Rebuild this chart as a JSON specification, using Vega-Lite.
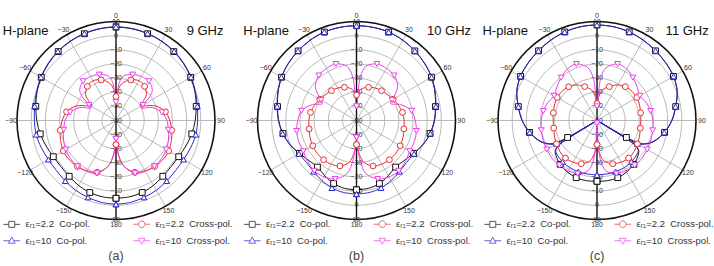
{
"$schema":"https://vega.github.io/schema/vega-lite/v6.json",
"background":"white",
"padding":{"left":2,"top":11.5,"right":0,"bottom":0},
"bounds":"flush",
"spacing":42.5,
"resolve":{"scale":{"color":"independent","shape":"independent"}},
"config":{"view":{"stroke":null},"text":{"font":"Liberation Sans"},"legend":{"labelFont":"Liberation Sans"}},
"datasets":{
"rg":[{"r":10},{"r":20},{"r":30},{"r":40},{"r":50},{"r":60},{"r":70}],
"sp":[{"a":30},{"a":60},{"a":90},{"a":120},{"a":150},{"a":210},{"a":240},{"a":270},{"a":300},{"a":330}],
"al":[{"a":0},{"a":30},{"a":60},{"a":90},{"a":120},{"a":150},{"a":180},{"a":-150},{"a":-120},{"a":-90},{"a":-60},{"a":-30}],
"rl":[{"v":10,"sd":1},{"v":0,"sd":1},{"v":-10,"sd":1},{"v":-20,"sd":1},{"v":-30,"sd":1},{"v":-40,"sd":1},{"v":-50,"sd":1},{"v":-60,"sd":1},{"v":-50,"sd":-1},{"v":-40,"sd":-1},{"v":-30,"sd":-1},{"v":-20,"sd":-1},{"v":-10,"sd":-1},{"v":0,"sd":-1},{"v":10,"sd":-1}],
"cv":[
{"p":9,"s":"k","a":-180,"d":-5},{"p":9,"s":"k","a":-170,"d":-5.2},{"p":9,"s":"k","a":-160,"d":-5.8},{"p":9,"s":"k","a":-150,"d":-7},{"p":9,"s":"k","a":-140,"d":-8.5},{"p":9,"s":"k","a":-130,"d":-9.2},{"p":9,"s":"k","a":-120,"d":-8.8},{"p":9,"s":"k","a":-110,"d":-7.4},{"p":9,"s":"k","a":-100,"d":-5.6},{"p":9,"s":"k","a":-90,"d":-4},{"p":9,"s":"k","a":-80,"d":-2.4},{"p":9,"s":"k","a":-70,"d":-0.6},{"p":9,"s":"k","a":-60,"d":1},{"p":9,"s":"k","a":-50,"d":2.4},{"p":9,"s":"k","a":-40,"d":3.6},{"p":9,"s":"k","a":-30,"d":4.6},{"p":9,"s":"k","a":-20,"d":5.3},{"p":9,"s":"k","a":-10,"d":5.8},{"p":9,"s":"k","a":0,"d":6},{"p":9,"s":"k","a":10,"d":5.8},{"p":9,"s":"k","a":20,"d":5.3},{"p":9,"s":"k","a":30,"d":4.6},{"p":9,"s":"k","a":40,"d":3.6},{"p":9,"s":"k","a":50,"d":2.4},{"p":9,"s":"k","a":60,"d":1},{"p":9,"s":"k","a":70,"d":-0.6},{"p":9,"s":"k","a":80,"d":-2.4},{"p":9,"s":"k","a":90,"d":-4},{"p":9,"s":"k","a":100,"d":-5.6},{"p":9,"s":"k","a":110,"d":-7.4},{"p":9,"s":"k","a":120,"d":-8.8},{"p":9,"s":"k","a":130,"d":-9.2},{"p":9,"s":"k","a":140,"d":-8.5},{"p":9,"s":"k","a":150,"d":-7},{"p":9,"s":"k","a":160,"d":-5.8},{"p":9,"s":"k","a":170,"d":-5.2},{"p":9,"s":"k","a":180,"d":-5},
{"p":9,"s":"b","a":-180,"d":-0.8},{"p":9,"s":"b","a":-170,"d":-1.2},{"p":9,"s":"b","a":-160,"d":-2.2},{"p":9,"s":"b","a":-150,"d":-3},{"p":9,"s":"b","a":-140,"d":-4.2},{"p":9,"s":"b","a":-130,"d":-5},{"p":9,"s":"b","a":-120,"d":-4.8},{"p":9,"s":"b","a":-110,"d":-3.8},{"p":9,"s":"b","a":-100,"d":-2.7},{"p":9,"s":"b","a":-90,"d":-2.3},{"p":9,"s":"b","a":-80,"d":-1.6},{"p":9,"s":"b","a":-70,"d":-0.2},{"p":9,"s":"b","a":-60,"d":1.3},{"p":9,"s":"b","a":-50,"d":2.7},{"p":9,"s":"b","a":-40,"d":3.9},{"p":9,"s":"b","a":-30,"d":4.8},{"p":9,"s":"b","a":-20,"d":5.5},{"p":9,"s":"b","a":-10,"d":6},{"p":9,"s":"b","a":0,"d":6.2},{"p":9,"s":"b","a":10,"d":6},{"p":9,"s":"b","a":20,"d":5.5},{"p":9,"s":"b","a":30,"d":4.8},{"p":9,"s":"b","a":40,"d":3.9},{"p":9,"s":"b","a":50,"d":2.7},{"p":9,"s":"b","a":60,"d":1.3},{"p":9,"s":"b","a":70,"d":-0.2},{"p":9,"s":"b","a":80,"d":-1.6},{"p":9,"s":"b","a":90,"d":-2.3},{"p":9,"s":"b","a":100,"d":-2.7},{"p":9,"s":"b","a":110,"d":-3.8},{"p":9,"s":"b","a":120,"d":-4.8},{"p":9,"s":"b","a":130,"d":-5},{"p":9,"s":"b","a":140,"d":-4.2},{"p":9,"s":"b","a":150,"d":-3},{"p":9,"s":"b","a":160,"d":-2.2},{"p":9,"s":"b","a":170,"d":-1.2},{"p":9,"s":"b","a":180,"d":-0.8},
{"p":9,"s":"r","a":-180,"d":-43},{"p":9,"s":"r","a":-175,"d":-34},{"p":9,"s":"r","a":-170,"d":-27},{"p":9,"s":"r","a":-160,"d":-21},{"p":9,"s":"r","a":-150,"d":-19},{"p":9,"s":"r","a":-140,"d":-17.5},{"p":9,"s":"r","a":-130,"d":-16.8},{"p":9,"s":"r","a":-120,"d":-17},{"p":9,"s":"r","a":-110,"d":-18.3},{"p":9,"s":"r","a":-100,"d":-20},{"p":9,"s":"r","a":-90,"d":-22},{"p":9,"s":"r","a":-80,"d":-24.5},{"p":9,"s":"r","a":-70,"d":-30},{"p":9,"s":"r","a":-62,"d":-38},{"p":9,"s":"r","a":-58,"d":-40},{"p":9,"s":"r","a":-55,"d":-37},{"p":9,"s":"r","a":-50,"d":-32},{"p":9,"s":"r","a":-40,"d":-28.5},{"p":9,"s":"r","a":-30,"d":-27.5},{"p":9,"s":"r","a":-20,"d":-29.5},{"p":9,"s":"r","a":-10,"d":-33},{"p":9,"s":"r","a":-5,"d":-37},{"p":9,"s":"r","a":0,"d":-43},{"p":9,"s":"r","a":5,"d":-37},{"p":9,"s":"r","a":10,"d":-33},{"p":9,"s":"r","a":20,"d":-29.5},{"p":9,"s":"r","a":30,"d":-27.5},{"p":9,"s":"r","a":40,"d":-28.5},{"p":9,"s":"r","a":50,"d":-32},{"p":9,"s":"r","a":55,"d":-37},{"p":9,"s":"r","a":58,"d":-40},{"p":9,"s":"r","a":62,"d":-38},{"p":9,"s":"r","a":70,"d":-30},{"p":9,"s":"r","a":80,"d":-24.5},{"p":9,"s":"r","a":90,"d":-22},{"p":9,"s":"r","a":100,"d":-20},{"p":9,"s":"r","a":110,"d":-18.3},{"p":9,"s":"r","a":120,"d":-17},{"p":9,"s":"r","a":130,"d":-16.8},{"p":9,"s":"r","a":140,"d":-17.5},{"p":9,"s":"r","a":150,"d":-19},{"p":9,"s":"r","a":160,"d":-21},{"p":9,"s":"r","a":170,"d":-27},{"p":9,"s":"r","a":175,"d":-34},{"p":9,"s":"r","a":180,"d":-43},
{"p":9,"s":"m","a":-180,"d":-47},{"p":9,"s":"m","a":-175,"d":-34},{"p":9,"s":"m","a":-170,"d":-27},{"p":9,"s":"m","a":-160,"d":-20.3},{"p":9,"s":"m","a":-150,"d":-18.5},{"p":9,"s":"m","a":-140,"d":-17.7},{"p":9,"s":"m","a":-130,"d":-18},{"p":9,"s":"m","a":-120,"d":-19},{"p":9,"s":"m","a":-110,"d":-20.5},{"p":9,"s":"m","a":-100,"d":-22.5},{"p":9,"s":"m","a":-90,"d":-24},{"p":9,"s":"m","a":-80,"d":-27},{"p":9,"s":"m","a":-70,"d":-33},{"p":9,"s":"m","a":-64,"d":-40},{"p":9,"s":"m","a":-60,"d":-38},{"p":9,"s":"m","a":-55,"d":-31},{"p":9,"s":"m","a":-50,"d":-26.5},{"p":9,"s":"m","a":-40,"d":-23.8},{"p":9,"s":"m","a":-30,"d":-24},{"p":9,"s":"m","a":-20,"d":-25.5},{"p":9,"s":"m","a":-10,"d":-28},{"p":9,"s":"m","a":-5,"d":-33},{"p":9,"s":"m","a":0,"d":-47},{"p":9,"s":"m","a":5,"d":-33},{"p":9,"s":"m","a":10,"d":-28},{"p":9,"s":"m","a":20,"d":-25.5},{"p":9,"s":"m","a":30,"d":-24},{"p":9,"s":"m","a":40,"d":-23.8},{"p":9,"s":"m","a":50,"d":-26.5},{"p":9,"s":"m","a":55,"d":-31},{"p":9,"s":"m","a":60,"d":-38},{"p":9,"s":"m","a":64,"d":-40},{"p":9,"s":"m","a":70,"d":-33},{"p":9,"s":"m","a":80,"d":-27},{"p":9,"s":"m","a":90,"d":-24},{"p":9,"s":"m","a":100,"d":-22.5},{"p":9,"s":"m","a":110,"d":-20.5},{"p":9,"s":"m","a":120,"d":-19},{"p":9,"s":"m","a":130,"d":-18},{"p":9,"s":"m","a":140,"d":-17.7},{"p":9,"s":"m","a":150,"d":-18.5},{"p":9,"s":"m","a":160,"d":-20.3},{"p":9,"s":"m","a":170,"d":-27},{"p":9,"s":"m","a":175,"d":-34},{"p":9,"s":"m","a":180,"d":-47},
{"p":10,"s":"k","a":-180,"d":-11},{"p":10,"s":"k","a":-170,"d":-11.3},{"p":10,"s":"k","a":-160,"d":-12.6},{"p":10,"s":"k","a":-150,"d":-15},{"p":10,"s":"k","a":-140,"d":-17},{"p":10,"s":"k","a":-130,"d":-16},{"p":10,"s":"k","a":-120,"d":-13.5},{"p":10,"s":"k","a":-110,"d":-10},{"p":10,"s":"k","a":-100,"d":-7.2},{"p":10,"s":"k","a":-90,"d":-5},{"p":10,"s":"k","a":-80,"d":-3.3},{"p":10,"s":"k","a":-70,"d":-1},{"p":10,"s":"k","a":-60,"d":1.2},{"p":10,"s":"k","a":-50,"d":2.8},{"p":10,"s":"k","a":-40,"d":4.2},{"p":10,"s":"k","a":-30,"d":5.5},{"p":10,"s":"k","a":-20,"d":6.5},{"p":10,"s":"k","a":-10,"d":6.9},{"p":10,"s":"k","a":0,"d":7},{"p":10,"s":"k","a":10,"d":6.9},{"p":10,"s":"k","a":20,"d":6.5},{"p":10,"s":"k","a":30,"d":5.5},{"p":10,"s":"k","a":40,"d":4.2},{"p":10,"s":"k","a":50,"d":2.8},{"p":10,"s":"k","a":60,"d":1.2},{"p":10,"s":"k","a":70,"d":-1},{"p":10,"s":"k","a":80,"d":-3.3},{"p":10,"s":"k","a":90,"d":-5},{"p":10,"s":"k","a":100,"d":-7.2},{"p":10,"s":"k","a":110,"d":-10},{"p":10,"s":"k","a":120,"d":-13.5},{"p":10,"s":"k","a":130,"d":-16},{"p":10,"s":"k","a":140,"d":-17},{"p":10,"s":"k","a":150,"d":-15},{"p":10,"s":"k","a":160,"d":-12.6},{"p":10,"s":"k","a":170,"d":-11.3},{"p":10,"s":"k","a":180,"d":-11},
{"p":10,"s":"b","a":-180,"d":-8},{"p":10,"s":"b","a":-170,"d":-8.3},{"p":10,"s":"b","a":-160,"d":-9.2},{"p":10,"s":"b","a":-150,"d":-11},{"p":10,"s":"b","a":-140,"d":-12.8},{"p":10,"s":"b","a":-130,"d":-13.8},{"p":10,"s":"b","a":-120,"d":-13},{"p":10,"s":"b","a":-110,"d":-10},{"p":10,"s":"b","a":-100,"d":-7},{"p":10,"s":"b","a":-90,"d":-4.8},{"p":10,"s":"b","a":-80,"d":-3},{"p":10,"s":"b","a":-70,"d":-0.8},{"p":10,"s":"b","a":-60,"d":1.3},{"p":10,"s":"b","a":-50,"d":2.9},{"p":10,"s":"b","a":-40,"d":4.3},{"p":10,"s":"b","a":-30,"d":5.6},{"p":10,"s":"b","a":-20,"d":6.6},{"p":10,"s":"b","a":-10,"d":6.9},{"p":10,"s":"b","a":0,"d":7},{"p":10,"s":"b","a":10,"d":6.9},{"p":10,"s":"b","a":20,"d":6.6},{"p":10,"s":"b","a":30,"d":5.6},{"p":10,"s":"b","a":40,"d":4.3},{"p":10,"s":"b","a":50,"d":2.9},{"p":10,"s":"b","a":60,"d":1.3},{"p":10,"s":"b","a":70,"d":-0.8},{"p":10,"s":"b","a":80,"d":-3},{"p":10,"s":"b","a":90,"d":-4.8},{"p":10,"s":"b","a":100,"d":-7},{"p":10,"s":"b","a":110,"d":-10},{"p":10,"s":"b","a":120,"d":-13},{"p":10,"s":"b","a":130,"d":-13.8},{"p":10,"s":"b","a":140,"d":-12.8},{"p":10,"s":"b","a":150,"d":-11},{"p":10,"s":"b","a":160,"d":-9.2},{"p":10,"s":"b","a":170,"d":-8.3},{"p":10,"s":"b","a":180,"d":-8},
{"p":10,"s":"r","a":-180,"d":-43},{"p":10,"s":"r","a":-175,"d":-36},{"p":10,"s":"r","a":-170,"d":-30},{"p":10,"s":"r","a":-160,"d":-25.8},{"p":10,"s":"r","a":-150,"d":-24.3},{"p":10,"s":"r","a":-140,"d":-23.8},{"p":10,"s":"r","a":-130,"d":-23.8},{"p":10,"s":"r","a":-120,"d":-24.3},{"p":10,"s":"r","a":-110,"d":-25},{"p":10,"s":"r","a":-100,"d":-26},{"p":10,"s":"r","a":-90,"d":-26.3},{"p":10,"s":"r","a":-80,"d":-27},{"p":10,"s":"r","a":-70,"d":-28.5},{"p":10,"s":"r","a":-60,"d":-30},{"p":10,"s":"r","a":-50,"d":-31.5},{"p":10,"s":"r","a":-40,"d":-32.5},{"p":10,"s":"r","a":-30,"d":-33.5},{"p":10,"s":"r","a":-20,"d":-35},{"p":10,"s":"r","a":-10,"d":-37},{"p":10,"s":"r","a":-5,"d":-39},{"p":10,"s":"r","a":0,"d":-42},{"p":10,"s":"r","a":5,"d":-39},{"p":10,"s":"r","a":10,"d":-37},{"p":10,"s":"r","a":20,"d":-35},{"p":10,"s":"r","a":30,"d":-33.5},{"p":10,"s":"r","a":40,"d":-32.5},{"p":10,"s":"r","a":50,"d":-31.5},{"p":10,"s":"r","a":60,"d":-30},{"p":10,"s":"r","a":70,"d":-28.5},{"p":10,"s":"r","a":80,"d":-27},{"p":10,"s":"r","a":90,"d":-26.3},{"p":10,"s":"r","a":100,"d":-26},{"p":10,"s":"r","a":110,"d":-25},{"p":10,"s":"r","a":120,"d":-24.3},{"p":10,"s":"r","a":130,"d":-23.8},{"p":10,"s":"r","a":140,"d":-23.8},{"p":10,"s":"r","a":150,"d":-24.3},{"p":10,"s":"r","a":160,"d":-25.8},{"p":10,"s":"r","a":170,"d":-30},{"p":10,"s":"r","a":175,"d":-36},{"p":10,"s":"r","a":180,"d":-43},
{"p":10,"s":"m","a":-180,"d":-48},{"p":10,"s":"m","a":-175,"d":-32},{"p":10,"s":"m","a":-170,"d":-22},{"p":10,"s":"m","a":-160,"d":-16},{"p":10,"s":"m","a":-150,"d":-14},{"p":10,"s":"m","a":-140,"d":-13.5},{"p":10,"s":"m","a":-130,"d":-15},{"p":10,"s":"m","a":-120,"d":-16.5},{"p":10,"s":"m","a":-110,"d":-16.5},{"p":10,"s":"m","a":-100,"d":-17},{"p":10,"s":"m","a":-90,"d":-18.5},{"p":10,"s":"m","a":-80,"d":-20.5},{"p":10,"s":"m","a":-70,"d":-27},{"p":10,"s":"m","a":-64,"d":-33},{"p":10,"s":"m","a":-60,"d":-31},{"p":10,"s":"m","a":-55,"d":-26},{"p":10,"s":"m","a":-50,"d":-22},{"p":10,"s":"m","a":-40,"d":-18.5},{"p":10,"s":"m","a":-30,"d":-17.5},{"p":10,"s":"m","a":-20,"d":-17.5},{"p":10,"s":"m","a":-10,"d":-21},{"p":10,"s":"m","a":-5,"d":-29},{"p":10,"s":"m","a":0,"d":-50},{"p":10,"s":"m","a":5,"d":-29},{"p":10,"s":"m","a":10,"d":-21},{"p":10,"s":"m","a":20,"d":-17.5},{"p":10,"s":"m","a":30,"d":-17.5},{"p":10,"s":"m","a":40,"d":-18.5},{"p":10,"s":"m","a":50,"d":-22},{"p":10,"s":"m","a":55,"d":-26},{"p":10,"s":"m","a":60,"d":-31},{"p":10,"s":"m","a":64,"d":-33},{"p":10,"s":"m","a":70,"d":-27},{"p":10,"s":"m","a":80,"d":-20.5},{"p":10,"s":"m","a":90,"d":-18.5},{"p":10,"s":"m","a":100,"d":-17},{"p":10,"s":"m","a":110,"d":-16.5},{"p":10,"s":"m","a":120,"d":-16.5},{"p":10,"s":"m","a":130,"d":-15},{"p":10,"s":"m","a":140,"d":-13.5},{"p":10,"s":"m","a":150,"d":-14},{"p":10,"s":"m","a":160,"d":-16},{"p":10,"s":"m","a":170,"d":-22},{"p":10,"s":"m","a":175,"d":-32},{"p":10,"s":"m","a":180,"d":-48},
{"p":11,"s":"k","a":-180,"d":-17},{"p":11,"s":"k","a":-170,"d":-16.8},{"p":11,"s":"k","a":-160,"d":-17},{"p":11,"s":"k","a":-150,"d":-18},{"p":11,"s":"k","a":-140,"d":-19.5},{"p":11,"s":"k","a":-130,"d":-22},{"p":11,"s":"k","a":-126,"d":-23.5},{"p":11,"s":"k","a":-123,"d":-27},{"p":11,"s":"k","a":-121.5,"d":-60},{"p":11,"s":"k","a":-120,"d":-36},{"p":11,"s":"k","a":-118,"d":-26},{"p":11,"s":"k","a":-115,"d":-21},{"p":11,"s":"k","a":-110,"d":-17},{"p":11,"s":"k","a":-100,"d":-11.5},{"p":11,"s":"k","a":-90,"d":-7},{"p":11,"s":"k","a":-80,"d":-3.5},{"p":11,"s":"k","a":-70,"d":0.3},{"p":11,"s":"k","a":-60,"d":2.4},{"p":11,"s":"k","a":-50,"d":3.4},{"p":11,"s":"k","a":-40,"d":4.3},{"p":11,"s":"k","a":-30,"d":5.5},{"p":11,"s":"k","a":-20,"d":6.6},{"p":11,"s":"k","a":-10,"d":7.3},{"p":11,"s":"k","a":0,"d":7.5},{"p":11,"s":"k","a":10,"d":7.3},{"p":11,"s":"k","a":20,"d":6.6},{"p":11,"s":"k","a":30,"d":5.5},{"p":11,"s":"k","a":40,"d":4.3},{"p":11,"s":"k","a":50,"d":3.4},{"p":11,"s":"k","a":60,"d":2.4},{"p":11,"s":"k","a":70,"d":0.3},{"p":11,"s":"k","a":80,"d":-3.5},{"p":11,"s":"k","a":90,"d":-7},{"p":11,"s":"k","a":100,"d":-11.5},{"p":11,"s":"k","a":110,"d":-17},{"p":11,"s":"k","a":115,"d":-21},{"p":11,"s":"k","a":118,"d":-26},{"p":11,"s":"k","a":120,"d":-36},{"p":11,"s":"k","a":121.5,"d":-60},{"p":11,"s":"k","a":123,"d":-27},{"p":11,"s":"k","a":126,"d":-23.5},{"p":11,"s":"k","a":130,"d":-22},{"p":11,"s":"k","a":140,"d":-19.5},{"p":11,"s":"k","a":150,"d":-18},{"p":11,"s":"k","a":160,"d":-17},{"p":11,"s":"k","a":170,"d":-16.8},{"p":11,"s":"k","a":180,"d":-17},
{"p":11,"s":"b","a":-180,"d":-21.6},{"p":11,"s":"b","a":-170,"d":-21.6},{"p":11,"s":"b","a":-160,"d":-21.5},{"p":11,"s":"b","a":-150,"d":-21.5},{"p":11,"s":"b","a":-140,"d":-22},{"p":11,"s":"b","a":-130,"d":-23},{"p":11,"s":"b","a":-126,"d":-24},{"p":11,"s":"b","a":-123,"d":-28},{"p":11,"s":"b","a":-121.5,"d":-60},{"p":11,"s":"b","a":-120,"d":-27},{"p":11,"s":"b","a":-118,"d":-24},{"p":11,"s":"b","a":-115,"d":-21.5},{"p":11,"s":"b","a":-110,"d":-17.3},{"p":11,"s":"b","a":-100,"d":-11.7},{"p":11,"s":"b","a":-90,"d":-7.2},{"p":11,"s":"b","a":-80,"d":-3.6},{"p":11,"s":"b","a":-70,"d":0.4},{"p":11,"s":"b","a":-60,"d":2.5},{"p":11,"s":"b","a":-50,"d":3.5},{"p":11,"s":"b","a":-40,"d":4.4},{"p":11,"s":"b","a":-30,"d":5.6},{"p":11,"s":"b","a":-20,"d":6.6},{"p":11,"s":"b","a":-10,"d":7.3},{"p":11,"s":"b","a":0,"d":7.5},{"p":11,"s":"b","a":10,"d":7.3},{"p":11,"s":"b","a":20,"d":6.6},{"p":11,"s":"b","a":30,"d":5.6},{"p":11,"s":"b","a":40,"d":4.4},{"p":11,"s":"b","a":50,"d":3.5},{"p":11,"s":"b","a":60,"d":2.5},{"p":11,"s":"b","a":70,"d":0.4},{"p":11,"s":"b","a":80,"d":-3.6},{"p":11,"s":"b","a":90,"d":-7.2},{"p":11,"s":"b","a":100,"d":-11.7},{"p":11,"s":"b","a":110,"d":-17.3},{"p":11,"s":"b","a":115,"d":-21.5},{"p":11,"s":"b","a":118,"d":-24},{"p":11,"s":"b","a":120,"d":-27},{"p":11,"s":"b","a":121.5,"d":-60},{"p":11,"s":"b","a":123,"d":-28},{"p":11,"s":"b","a":126,"d":-24},{"p":11,"s":"b","a":130,"d":-23},{"p":11,"s":"b","a":140,"d":-22},{"p":11,"s":"b","a":150,"d":-21.5},{"p":11,"s":"b","a":160,"d":-21.5},{"p":11,"s":"b","a":170,"d":-21.6},{"p":11,"s":"b","a":180,"d":-21.6},
{"p":11,"s":"r","a":-180,"d":-43},{"p":11,"s":"r","a":-175,"d":-36},{"p":11,"s":"r","a":-170,"d":-31},{"p":11,"s":"r","a":-160,"d":-27.5},{"p":11,"s":"r","a":-150,"d":-26},{"p":11,"s":"r","a":-140,"d":-25.3},{"p":11,"s":"r","a":-130,"d":-25.8},{"p":11,"s":"r","a":-120,"d":-27},{"p":11,"s":"r","a":-110,"d":-28},{"p":11,"s":"r","a":-100,"d":-28.9},{"p":11,"s":"r","a":-90,"d":-29},{"p":11,"s":"r","a":-80,"d":-28.7},{"p":11,"s":"r","a":-70,"d":-28},{"p":11,"s":"r","a":-60,"d":-27.5},{"p":11,"s":"r","a":-50,"d":-27.8},{"p":11,"s":"r","a":-40,"d":-28.8},{"p":11,"s":"r","a":-30,"d":-31},{"p":11,"s":"r","a":-20,"d":-34.5},{"p":11,"s":"r","a":-10,"d":-38},{"p":11,"s":"r","a":-5,"d":-42},{"p":11,"s":"r","a":0,"d":-48},{"p":11,"s":"r","a":5,"d":-42},{"p":11,"s":"r","a":10,"d":-38},{"p":11,"s":"r","a":20,"d":-34.5},{"p":11,"s":"r","a":30,"d":-31},{"p":11,"s":"r","a":40,"d":-28.8},{"p":11,"s":"r","a":50,"d":-27.8},{"p":11,"s":"r","a":60,"d":-27.5},{"p":11,"s":"r","a":70,"d":-28},{"p":11,"s":"r","a":80,"d":-28.7},{"p":11,"s":"r","a":90,"d":-29},{"p":11,"s":"r","a":100,"d":-28.9},{"p":11,"s":"r","a":110,"d":-28},{"p":11,"s":"r","a":120,"d":-27},{"p":11,"s":"r","a":130,"d":-25.8},{"p":11,"s":"r","a":140,"d":-25.3},{"p":11,"s":"r","a":150,"d":-26},{"p":11,"s":"r","a":160,"d":-27.5},{"p":11,"s":"r","a":170,"d":-31},{"p":11,"s":"r","a":175,"d":-36},{"p":11,"s":"r","a":180,"d":-43},
{"p":11,"s":"m","a":-180,"d":-58},{"p":11,"s":"m","a":-175,"d":-32},{"p":11,"s":"m","a":-170,"d":-24},{"p":11,"s":"m","a":-160,"d":-20},{"p":11,"s":"m","a":-150,"d":-19},{"p":11,"s":"m","a":-140,"d":-18.5},{"p":11,"s":"m","a":-130,"d":-18.5},{"p":11,"s":"m","a":-120,"d":-19},{"p":11,"s":"m","a":-110,"d":-19.5},{"p":11,"s":"m","a":-100,"d":-20},{"p":11,"s":"m","a":-90,"d":-20.5},{"p":11,"s":"m","a":-80,"d":-21.5},{"p":11,"s":"m","a":-70,"d":-23},{"p":11,"s":"m","a":-60,"d":-25},{"p":11,"s":"m","a":-50,"d":-23},{"p":11,"s":"m","a":-40,"d":-20.5},{"p":11,"s":"m","a":-30,"d":-18},{"p":11,"s":"m","a":-20,"d":-17.5},{"p":11,"s":"m","a":-10,"d":-22},{"p":11,"s":"m","a":-5,"d":-30},{"p":11,"s":"m","a":0,"d":-50},{"p":11,"s":"m","a":5,"d":-30},{"p":11,"s":"m","a":10,"d":-22},{"p":11,"s":"m","a":20,"d":-17.5},{"p":11,"s":"m","a":30,"d":-18},{"p":11,"s":"m","a":40,"d":-20.5},{"p":11,"s":"m","a":50,"d":-23},{"p":11,"s":"m","a":60,"d":-25},{"p":11,"s":"m","a":70,"d":-23},{"p":11,"s":"m","a":80,"d":-21.5},{"p":11,"s":"m","a":90,"d":-20.5},{"p":11,"s":"m","a":100,"d":-20},{"p":11,"s":"m","a":110,"d":-19.5},{"p":11,"s":"m","a":120,"d":-19},{"p":11,"s":"m","a":130,"d":-18.5},{"p":11,"s":"m","a":140,"d":-18.5},{"p":11,"s":"m","a":150,"d":-19},{"p":11,"s":"m","a":160,"d":-20},{"p":11,"s":"m","a":170,"d":-24},{"p":11,"s":"m","a":175,"d":-32},{"p":11,"s":"m","a":180,"d":-58}
]},
"hconcat":[
{"width":198,"height":198,"resolve":{"scale":{"color":"independent","shape":"independent"}},"layer":[
{"data":{"name":"rg"},"transform":[{"filter":"datum.r < 70"}],"mark":{"type":"point","shape":"circle","filled":false,"stroke":"#a8a8a8","strokeWidth":0.8,"opacity":1},"encoding":{"x":{"datum":0,"type":"quantitative","scale":{"domain":[-70,70],"nice":false,"zero":false},"axis":null},"y":{"datum":0,"type":"quantitative","scale":{"domain":[-70,70],"nice":false,"zero":false},"axis":null},"size":{"field":"r","type":"quantitative","scale":{"type":"pow","exponent":2,"domain":[0,70],"range":[0,39204],"zero":true},"legend":null}}},
{"data":{"name":"sp"},"transform":[{"calculate":"70*sin(datum.a*PI/180)","as":"x2"},{"calculate":"70*cos(datum.a*PI/180)","as":"y2"}],"mark":{"type":"rule","stroke":"#a8a8a8","strokeWidth":0.8},"encoding":{"x":{"datum":0,"type":"quantitative"},"y":{"datum":0,"type":"quantitative"},"x2":{"field":"x2","type":"quantitative"},"y2":{"field":"y2","type":"quantitative"}}},
{"data":{"name":"rg"},"transform":[{"filter":"datum.r == 70"}],"mark":{"type":"point","shape":"circle","filled":false,"stroke":"#111111","strokeWidth":1.6,"opacity":1},"encoding":{"x":{"datum":0,"type":"quantitative"},"y":{"datum":0,"type":"quantitative"},"size":{"field":"r","type":"quantitative","legend":null}}},
{"data":{"values":[{"v":0}]},"mark":{"type":"rule","stroke":"#111111","strokeWidth":1.4},"encoding":{"x":{"datum":0,"type":"quantitative"},"y":{"datum":-70,"type":"quantitative"},"y2":{"datum":70,"type":"quantitative"}}},
{"data":{"name":"al"},"transform":[{"calculate":"74.2*sin(datum.a*PI/180)","as":"x"},{"calculate":"74.2*cos(datum.a*PI/180)","as":"y"}],"mark":{"type":"text","fontSize":7,"color":"#333333","align":"center","baseline":"middle"},"encoding":{"x":{"field":"x","type":"quantitative"},"y":{"field":"y","type":"quantitative"},"text":{"field":"a","type":"quantitative"}}},
{"data":{"name":"rl"},"transform":[{"calculate":"datum.sd*(datum.v+60)","as":"y"}],"mark":{"type":"text","fontSize":7,"color":"#333333","align":"center","baseline":"middle"},"encoding":{"x":{"datum":0,"type":"quantitative"},"y":{"field":"y","type":"quantitative"},"text":{"field":"v","type":"quantitative"}}},
{"data":{"name":"cv"},"transform":[{"filter":"datum.p == 9"},{"calculate":"max(datum.d+60,0)*sin(datum.a*PI/180)","as":"x"},{"calculate":"max(datum.d+60,0)*cos(datum.a*PI/180)","as":"y"}],"mark":{"type":"line","strokeWidth":1,"interpolate":"catmull-rom"},"encoding":{"x":{"field":"x","type":"quantitative"},"y":{"field":"y","type":"quantitative"},"order":{"field":"a","type":"quantitative"},"color":{"field":"s","type":"nominal","scale":{"domain":["k","r","b","m"],"range":["#111111","#ee2a2a","#2626cc","#f03cf0"]},"legend":null}}},
{"data":{"name":"cv"},"transform":[{"filter":"datum.p == 9 && datum.a % 20 == 0"},{"calculate":"max(datum.d+60,0)*sin(datum.a*PI/180)","as":"x"},{"calculate":"max(datum.d+60,0)*cos(datum.a*PI/180)","as":"y"}],"mark":{"type":"point","filled":false,"fill":"white","size":34,"strokeWidth":1,"opacity":1},"encoding":{"x":{"field":"x","type":"quantitative"},"y":{"field":"y","type":"quantitative"},"color":{"field":"s","type":"nominal","scale":{"domain":["k","r","b","m"],"range":["#111111","#ee2a2a","#2626cc","#f03cf0"]},"legend":null},"shape":{"field":"s","type":"nominal","scale":{"domain":["k","r","b","m"],"range":["square","circle","triangle-up","triangle-down"]},"legend":null}}},
{"data":{"name":"cv"},"transform":[{"filter":"false"}],"mark":{"type":"point","filled":false,"strokeWidth":1},"encoding":{"color":{"field":"s","type":"nominal","scale":{"domain":["k","r","b","m"],"range":["#111111","#ee2a2a","#2626cc","#f03cf0"]},"legend":{"orient":"none","legendX":-10,"legendY":197.5,"direction":"horizontal","columns":2,"columnPadding":41,"rowPadding":5,"title":null,"padding":0,"labelFontSize":9.5,"labelColor":"#333333","labelOffset":9,"symbolSize":36,"symbolStrokeWidth":1,"labelExpr":"datum.value=='k'?'εᵣ₁=2.2\u00a0 Co-pol.':datum.value=='r'?'εᵣ₁=2.2\u00a0 Cross-pol.':datum.value=='b'?'εᵣ₁=10\u00a0 Co-pol.':'εᵣ₁=10\u00a0 Cross-pol.'"}},"shape":{"field":"s","type":"nominal","scale":{"domain":["k","r","b","m"],"range":["M-2.8,0H-1M1,0H2.8M-1,-1H1V1H-1Z","M-2.8,0H-1.1M1.1,0H2.8M1.1,0A1.1,1.1 0 1,1 -1.1,0A1.1,1.1 0 1,1 1.1,0Z","M-2.8,0H-0.6M0.6,0H2.8M0,-1.2L1.1,0.8H-1.1Z","M-2.8,0H-0.6M0.6,0H2.8M0,1.2L1.1,-0.8H-1.1Z"]},"legend":{"orient":"none","legendX":-10,"legendY":197.5,"direction":"horizontal","columns":2,"columnPadding":41,"rowPadding":5,"title":null,"padding":0,"labelFontSize":9.5,"labelColor":"#333333","labelOffset":9,"symbolSize":36,"symbolStrokeWidth":1,"labelExpr":"datum.value=='k'?'εᵣ₁=2.2\u00a0 Co-pol.':datum.value=='r'?'εᵣ₁=2.2\u00a0 Cross-pol.':datum.value=='b'?'εᵣ₁=10\u00a0 Co-pol.':'εᵣ₁=10\u00a0 Cross-pol.'"}}}},
{"data":{"values":[{"v":0}]},"mark":{"type":"text","text":"H-plane","fontSize":13,"align":"left","baseline":"middle","color":"#111111"},"encoding":{"x":{"datum":-80,"type":"quantitative"},"y":{"datum":63,"type":"quantitative"}}},
{"data":{"values":[{"v":0}]},"mark":{"type":"text","text":"9 GHz","fontSize":13,"align":"right","baseline":"middle","color":"#111111"},"encoding":{"x":{"datum":76,"type":"quantitative"},"y":{"datum":63,"type":"quantitative"}}},
{"data":{"values":[{"v":0}]},"mark":{"type":"text","text":"(a)","fontSize":12.5,"align":"center","baseline":"middle","color":"#444444"},"encoding":{"x":{"datum":0,"type":"quantitative"},"y":{"datum":-95.5,"type":"quantitative"}}}
]},
{"width":198,"height":198,"resolve":{"scale":{"color":"independent","shape":"independent"}},"layer":[
{"data":{"name":"rg"},"transform":[{"filter":"datum.r < 70"}],"mark":{"type":"point","shape":"circle","filled":false,"stroke":"#a8a8a8","strokeWidth":0.8,"opacity":1},"encoding":{"x":{"datum":0,"type":"quantitative","scale":{"domain":[-70,70],"nice":false,"zero":false},"axis":null},"y":{"datum":0,"type":"quantitative","scale":{"domain":[-70,70],"nice":false,"zero":false},"axis":null},"size":{"field":"r","type":"quantitative","scale":{"type":"pow","exponent":2,"domain":[0,70],"range":[0,39204],"zero":true},"legend":null}}},
{"data":{"name":"sp"},"transform":[{"calculate":"70*sin(datum.a*PI/180)","as":"x2"},{"calculate":"70*cos(datum.a*PI/180)","as":"y2"}],"mark":{"type":"rule","stroke":"#a8a8a8","strokeWidth":0.8},"encoding":{"x":{"datum":0,"type":"quantitative"},"y":{"datum":0,"type":"quantitative"},"x2":{"field":"x2","type":"quantitative"},"y2":{"field":"y2","type":"quantitative"}}},
{"data":{"name":"rg"},"transform":[{"filter":"datum.r == 70"}],"mark":{"type":"point","shape":"circle","filled":false,"stroke":"#111111","strokeWidth":1.6,"opacity":1},"encoding":{"x":{"datum":0,"type":"quantitative"},"y":{"datum":0,"type":"quantitative"},"size":{"field":"r","type":"quantitative","legend":null}}},
{"data":{"values":[{"v":0}]},"mark":{"type":"rule","stroke":"#111111","strokeWidth":1.4},"encoding":{"x":{"datum":0,"type":"quantitative"},"y":{"datum":-70,"type":"quantitative"},"y2":{"datum":70,"type":"quantitative"}}},
{"data":{"name":"al"},"transform":[{"calculate":"74.2*sin(datum.a*PI/180)","as":"x"},{"calculate":"74.2*cos(datum.a*PI/180)","as":"y"}],"mark":{"type":"text","fontSize":7,"color":"#333333","align":"center","baseline":"middle"},"encoding":{"x":{"field":"x","type":"quantitative"},"y":{"field":"y","type":"quantitative"},"text":{"field":"a","type":"quantitative"}}},
{"data":{"name":"rl"},"transform":[{"calculate":"datum.sd*(datum.v+60)","as":"y"}],"mark":{"type":"text","fontSize":7,"color":"#333333","align":"center","baseline":"middle"},"encoding":{"x":{"datum":0,"type":"quantitative"},"y":{"field":"y","type":"quantitative"},"text":{"field":"v","type":"quantitative"}}},
{"data":{"name":"cv"},"transform":[{"filter":"datum.p == 10"},{"calculate":"max(datum.d+60,0)*sin(datum.a*PI/180)","as":"x"},{"calculate":"max(datum.d+60,0)*cos(datum.a*PI/180)","as":"y"}],"mark":{"type":"line","strokeWidth":1,"interpolate":"catmull-rom"},"encoding":{"x":{"field":"x","type":"quantitative"},"y":{"field":"y","type":"quantitative"},"order":{"field":"a","type":"quantitative"},"color":{"field":"s","type":"nominal","scale":{"domain":["k","r","b","m"],"range":["#111111","#ee2a2a","#2626cc","#f03cf0"]},"legend":null}}},
{"data":{"name":"cv"},"transform":[{"filter":"datum.p == 10 && datum.a % 20 == 0"},{"calculate":"max(datum.d+60,0)*sin(datum.a*PI/180)","as":"x"},{"calculate":"max(datum.d+60,0)*cos(datum.a*PI/180)","as":"y"}],"mark":{"type":"point","filled":false,"fill":"white","size":34,"strokeWidth":1,"opacity":1},"encoding":{"x":{"field":"x","type":"quantitative"},"y":{"field":"y","type":"quantitative"},"color":{"field":"s","type":"nominal","scale":{"domain":["k","r","b","m"],"range":["#111111","#ee2a2a","#2626cc","#f03cf0"]},"legend":null},"shape":{"field":"s","type":"nominal","scale":{"domain":["k","r","b","m"],"range":["square","circle","triangle-up","triangle-down"]},"legend":null}}},
{"data":{"name":"cv"},"transform":[{"filter":"false"}],"mark":{"type":"point","filled":false,"strokeWidth":1},"encoding":{"color":{"field":"s","type":"nominal","scale":{"domain":["k","r","b","m"],"range":["#111111","#ee2a2a","#2626cc","#f03cf0"]},"legend":{"orient":"none","legendX":-10,"legendY":197.5,"direction":"horizontal","columns":2,"columnPadding":41,"rowPadding":5,"title":null,"padding":0,"labelFontSize":9.5,"labelColor":"#333333","labelOffset":9,"symbolSize":36,"symbolStrokeWidth":1,"labelExpr":"datum.value=='k'?'εᵣ₁=2.2\u00a0 Co-pol.':datum.value=='r'?'εᵣ₁=2.2\u00a0 Cross-pol.':datum.value=='b'?'εᵣ₁=10\u00a0 Co-pol.':'εᵣ₁=10\u00a0 Cross-pol.'"}},"shape":{"field":"s","type":"nominal","scale":{"domain":["k","r","b","m"],"range":["M-2.8,0H-1M1,0H2.8M-1,-1H1V1H-1Z","M-2.8,0H-1.1M1.1,0H2.8M1.1,0A1.1,1.1 0 1,1 -1.1,0A1.1,1.1 0 1,1 1.1,0Z","M-2.8,0H-0.6M0.6,0H2.8M0,-1.2L1.1,0.8H-1.1Z","M-2.8,0H-0.6M0.6,0H2.8M0,1.2L1.1,-0.8H-1.1Z"]},"legend":{"orient":"none","legendX":-10,"legendY":197.5,"direction":"horizontal","columns":2,"columnPadding":41,"rowPadding":5,"title":null,"padding":0,"labelFontSize":9.5,"labelColor":"#333333","labelOffset":9,"symbolSize":36,"symbolStrokeWidth":1,"labelExpr":"datum.value=='k'?'εᵣ₁=2.2\u00a0 Co-pol.':datum.value=='r'?'εᵣ₁=2.2\u00a0 Cross-pol.':datum.value=='b'?'εᵣ₁=10\u00a0 Co-pol.':'εᵣ₁=10\u00a0 Cross-pol.'"}}}},
{"data":{"values":[{"v":0}]},"mark":{"type":"text","text":"H-plane","fontSize":13,"align":"left","baseline":"middle","color":"#111111"},"encoding":{"x":{"datum":-80,"type":"quantitative"},"y":{"datum":63,"type":"quantitative"}}},
{"data":{"values":[{"v":0}]},"mark":{"type":"text","text":"10 GHz","fontSize":13,"align":"right","baseline":"middle","color":"#111111"},"encoding":{"x":{"datum":81,"type":"quantitative"},"y":{"datum":63,"type":"quantitative"}}},
{"data":{"values":[{"v":0}]},"mark":{"type":"text","text":"(b)","fontSize":12.5,"align":"center","baseline":"middle","color":"#444444"},"encoding":{"x":{"datum":0,"type":"quantitative"},"y":{"datum":-95.5,"type":"quantitative"}}}
]},
{"width":198,"height":198,"resolve":{"scale":{"color":"independent","shape":"independent"}},"layer":[
{"data":{"name":"rg"},"transform":[{"filter":"datum.r < 70"}],"mark":{"type":"point","shape":"circle","filled":false,"stroke":"#a8a8a8","strokeWidth":0.8,"opacity":1},"encoding":{"x":{"datum":0,"type":"quantitative","scale":{"domain":[-70,70],"nice":false,"zero":false},"axis":null},"y":{"datum":0,"type":"quantitative","scale":{"domain":[-70,70],"nice":false,"zero":false},"axis":null},"size":{"field":"r","type":"quantitative","scale":{"type":"pow","exponent":2,"domain":[0,70],"range":[0,39204],"zero":true},"legend":null}}},
{"data":{"name":"sp"},"transform":[{"calculate":"70*sin(datum.a*PI/180)","as":"x2"},{"calculate":"70*cos(datum.a*PI/180)","as":"y2"}],"mark":{"type":"rule","stroke":"#a8a8a8","strokeWidth":0.8},"encoding":{"x":{"datum":0,"type":"quantitative"},"y":{"datum":0,"type":"quantitative"},"x2":{"field":"x2","type":"quantitative"},"y2":{"field":"y2","type":"quantitative"}}},
{"data":{"name":"rg"},"transform":[{"filter":"datum.r == 70"}],"mark":{"type":"point","shape":"circle","filled":false,"stroke":"#111111","strokeWidth":1.6,"opacity":1},"encoding":{"x":{"datum":0,"type":"quantitative"},"y":{"datum":0,"type":"quantitative"},"size":{"field":"r","type":"quantitative","legend":null}}},
{"data":{"values":[{"v":0}]},"mark":{"type":"rule","stroke":"#111111","strokeWidth":1.4},"encoding":{"x":{"datum":0,"type":"quantitative"},"y":{"datum":-70,"type":"quantitative"},"y2":{"datum":70,"type":"quantitative"}}},
{"data":{"name":"al"},"transform":[{"calculate":"74.2*sin(datum.a*PI/180)","as":"x"},{"calculate":"74.2*cos(datum.a*PI/180)","as":"y"}],"mark":{"type":"text","fontSize":7,"color":"#333333","align":"center","baseline":"middle"},"encoding":{"x":{"field":"x","type":"quantitative"},"y":{"field":"y","type":"quantitative"},"text":{"field":"a","type":"quantitative"}}},
{"data":{"name":"rl"},"transform":[{"calculate":"datum.sd*(datum.v+60)","as":"y"}],"mark":{"type":"text","fontSize":7,"color":"#333333","align":"center","baseline":"middle"},"encoding":{"x":{"datum":0,"type":"quantitative"},"y":{"field":"y","type":"quantitative"},"text":{"field":"v","type":"quantitative"}}},
{"data":{"name":"cv"},"transform":[{"filter":"datum.p == 11"},{"calculate":"max(datum.d+60,0)*sin(datum.a*PI/180)","as":"x"},{"calculate":"max(datum.d+60,0)*cos(datum.a*PI/180)","as":"y"}],"mark":{"type":"line","strokeWidth":1,"interpolate":"catmull-rom"},"encoding":{"x":{"field":"x","type":"quantitative"},"y":{"field":"y","type":"quantitative"},"order":{"field":"a","type":"quantitative"},"color":{"field":"s","type":"nominal","scale":{"domain":["k","r","b","m"],"range":["#111111","#ee2a2a","#2626cc","#f03cf0"]},"legend":null}}},
{"data":{"name":"cv"},"transform":[{"filter":"datum.p == 11 && datum.a % 20 == 0"},{"calculate":"max(datum.d+60,0)*sin(datum.a*PI/180)","as":"x"},{"calculate":"max(datum.d+60,0)*cos(datum.a*PI/180)","as":"y"}],"mark":{"type":"point","filled":false,"fill":"white","size":34,"strokeWidth":1,"opacity":1},"encoding":{"x":{"field":"x","type":"quantitative"},"y":{"field":"y","type":"quantitative"},"color":{"field":"s","type":"nominal","scale":{"domain":["k","r","b","m"],"range":["#111111","#ee2a2a","#2626cc","#f03cf0"]},"legend":null},"shape":{"field":"s","type":"nominal","scale":{"domain":["k","r","b","m"],"range":["square","circle","triangle-up","triangle-down"]},"legend":null}}},
{"data":{"name":"cv"},"transform":[{"filter":"false"}],"mark":{"type":"point","filled":false,"strokeWidth":1},"encoding":{"color":{"field":"s","type":"nominal","scale":{"domain":["k","r","b","m"],"range":["#111111","#ee2a2a","#2626cc","#f03cf0"]},"legend":{"orient":"none","legendX":-10,"legendY":197.5,"direction":"horizontal","columns":2,"columnPadding":41,"rowPadding":5,"title":null,"padding":0,"labelFontSize":9.5,"labelColor":"#333333","labelOffset":9,"symbolSize":36,"symbolStrokeWidth":1,"labelExpr":"datum.value=='k'?'εᵣ₁=2.2\u00a0 Co-pol.':datum.value=='r'?'εᵣ₁=2.2\u00a0 Cross-pol.':datum.value=='b'?'εᵣ₁=10\u00a0 Co-pol.':'εᵣ₁=10\u00a0 Cross-pol.'"}},"shape":{"field":"s","type":"nominal","scale":{"domain":["k","r","b","m"],"range":["M-2.8,0H-1M1,0H2.8M-1,-1H1V1H-1Z","M-2.8,0H-1.1M1.1,0H2.8M1.1,0A1.1,1.1 0 1,1 -1.1,0A1.1,1.1 0 1,1 1.1,0Z","M-2.8,0H-0.6M0.6,0H2.8M0,-1.2L1.1,0.8H-1.1Z","M-2.8,0H-0.6M0.6,0H2.8M0,1.2L1.1,-0.8H-1.1Z"]},"legend":{"orient":"none","legendX":-10,"legendY":197.5,"direction":"horizontal","columns":2,"columnPadding":41,"rowPadding":5,"title":null,"padding":0,"labelFontSize":9.5,"labelColor":"#333333","labelOffset":9,"symbolSize":36,"symbolStrokeWidth":1,"labelExpr":"datum.value=='k'?'εᵣ₁=2.2\u00a0 Co-pol.':datum.value=='r'?'εᵣ₁=2.2\u00a0 Cross-pol.':datum.value=='b'?'εᵣ₁=10\u00a0 Co-pol.':'εᵣ₁=10\u00a0 Cross-pol.'"}}}},
{"data":{"values":[{"v":0}]},"mark":{"type":"text","text":"H-plane","fontSize":13,"align":"left","baseline":"middle","color":"#111111"},"encoding":{"x":{"datum":-81,"type":"quantitative"},"y":{"datum":63,"type":"quantitative"}}},
{"data":{"values":[{"v":0}]},"mark":{"type":"text","text":"11 GHz","fontSize":13,"align":"right","baseline":"middle","color":"#111111"},"encoding":{"x":{"datum":79,"type":"quantitative"},"y":{"datum":63,"type":"quantitative"}}},
{"data":{"values":[{"v":0}]},"mark":{"type":"text","text":"(c)","fontSize":12.5,"align":"center","baseline":"middle","color":"#444444"},"encoding":{"x":{"datum":0,"type":"quantitative"},"y":{"datum":-95.5,"type":"quantitative"}}}
]}
]
}
